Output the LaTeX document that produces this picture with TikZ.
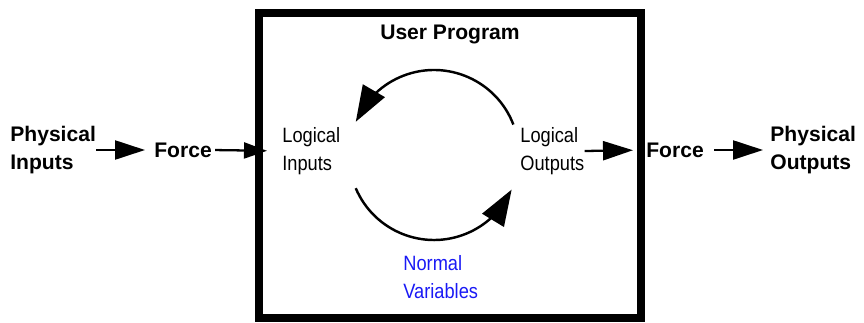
\documentclass[tikz,border=0pt]{standalone}
\usepackage{fontspec}
\setmainfont{Liberation Sans}
\newfontfamily\lightfont{Liberation Sans}[FakeStretch=0.88]
\usetikzlibrary{positioning,arrows.meta,bending}
\definecolor{varblue}{RGB}{25,25,245}
\tikzset{
  boldlabel/.style={font=\fontsize{12}{16}\selectfont\bfseries, align=left, inner sep=0pt},
  plainlabel/.style={font=\fontsize{11.8}{16}\lightfont, align=left, inner sep=0pt},
  sigarrow/.style={-{Triangle[length=0.6cm,width=0.38cm]}, line width=1.3pt},
  shortarrow/.style={-{Triangle[length=0.46cm,width=0.32cm]}, line width=1.3pt},
  looparrow/.style={-{Triangle[length=0.72cm,width=0.5cm,flex=0.6]}, line width=1.4pt},
}

\begin{document}
\begin{tikzpicture}[x=0.02cm, y=0.02cm]
  \useasboundingbox (0,0) rectangle (864,322);
  % the program box
  \node[draw, line width=0.16cm, minimum width=7.64cm, minimum height=6.1cm, inner sep=0pt] (prog) at (450,156.5) {};
  \node[boldlabel] (title) at (450,288) {User Program};
  \node[boldlabel, anchor=west] (physin) at (10,172) {Physical\\Inputs};
  \node[boldlabel, anchor=west] (forcein) at (154,172) {Force};
  \node[plainlabel, anchor=west] (lin) at (282,171) {Logical\\Inputs};
  \node[plainlabel, anchor=west] (lout) at (520,171) {Logical\\Outputs};
  \node[boldlabel, anchor=west] (forceout) at (646,172) {Force};
  \node[boldlabel, anchor=west] (physout) at (770,172) {Physical\\Outputs};
  \node[plainlabel, anchor=west, text=varblue] (vars) at (403,45) {Normal\\Variables};
  \draw[sigarrow, shorten >=0.18cm] (physin.east) -- (forcein.west);
  \draw[shortarrow, shorten <=0.06cm, shorten >=0.3cm] (forcein.east) -- (lin.west);
  \draw[sigarrow, shorten >=0.26cm] (lout.east) -- (forceout.west);
  \draw[sigarrow, shorten <=0.2cm, shorten >=0.14cm] (forceout.east) -- (physout.west);
  % scan loop
  \coordinate (loop) at (434,167);
  \draw[looparrow] (loop) ++(21:85) arc[start angle=21, end angle=157, radius=85];
  \draw[looparrow] (loop) ++(203:85) arc[start angle=203, end angle=336, radius=85];
\end{tikzpicture}
\end{document}
